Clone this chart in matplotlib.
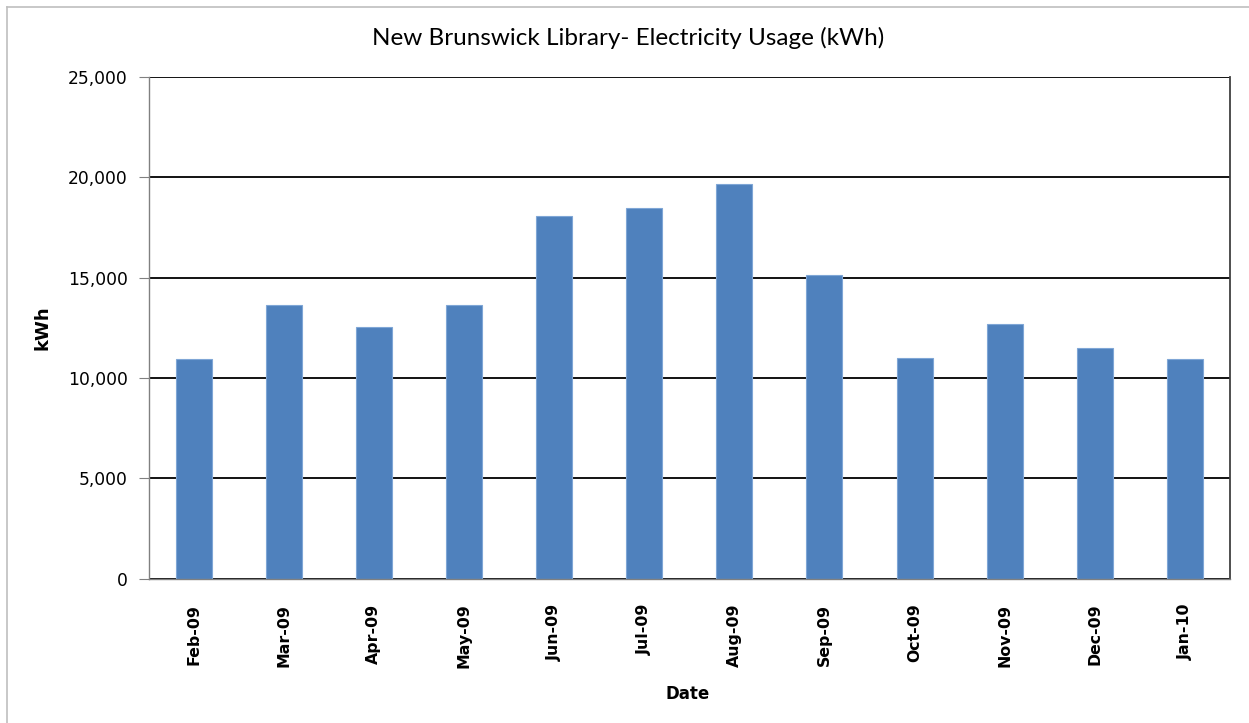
import matplotlib.pyplot as plt
from matplotlib.lines import Line2D
from matplotlib.ticker import FuncFormatter

# Monthly electricity usage (kWh)
months = ['Feb-09', 'Mar-09', 'Apr-09', 'May-09', 'Jun-09', 'Jul-09',
          'Aug-09', 'Sep-09', 'Oct-09', 'Nov-09', 'Dec-09', 'Jan-10']
usage = [10940, 13660, 12530, 13660, 18050, 18460,
         19660, 15120, 10990, 12680, 11490, 10940]
y_ticks = [0, 5000, 10000, 15000, 20000, 25000]

fig = plt.figure(figsize=(12.49, 7.23), dpi=100)
ax = fig.add_axes([0.1189, 0.1996, 0.8659, 0.6939])

x = range(len(months))
ax.bar(x, usage, width=0.4, color='#4F81BD', edgecolor='#7FA6D6', linewidth=0.8, zorder=3)

ax.set_xlim(-0.5, len(months) - 0.5)
ax.set_ylim(0, 25000)
ax.set_yticks(y_ticks)
ax.yaxis.set_major_formatter(FuncFormatter(lambda v, p: f'{int(v):,}'))
ax.set_xticks(list(x))
ax.set_xticklabels(months, rotation=90, fontweight='bold', fontsize=11.3,
                   family='DejaVu Sans')
ax.grid(axis='y', color='black', linewidth=1.3, zorder=1)

ax.tick_params(axis='y', length=7, width=0.8, color='#808080', pad=8,
               labelsize=12.3)
ax.tick_params(axis='x', length=0, pad=18)

for side in ['left', 'bottom']:
    ax.spines[side].set_color('#808080')
    ax.spines[side].set_linewidth(1.0)
ax.spines['top'].set_visible(False)
ax.spines['right'].set_color('#404040')
ax.spines['right'].set_linewidth(1.3)
ax.spines['bottom'].set_zorder(4)

ax.set_ylabel('kWh', fontweight='bold', fontsize=13)
ax.yaxis.set_label_coords(-0.090, 0.5)
ax.set_xlabel('Date', fontweight='bold', fontsize=12)
ax.xaxis.set_label_coords(0.4988, -0.212)

fig.text(628 / 1249, 1 - 38 / 723, 'New Brunswick Library- Electricity Usage (kWh)',
         ha='center', va='center', fontsize=17.5, family='Lato')

# Outer chart frame (top and left edges visible)
fig.add_artist(Line2D([7 / 1249, 7 / 1249], [0, 1 - 7 / 723], color='#BFBFBF', linewidth=1.2))
fig.add_artist(Line2D([7 / 1249, 1], [1 - 7 / 723, 1 - 7 / 723], color='#BFBFBF', linewidth=1.2))

fig.savefig('out.png', dpi=100)
